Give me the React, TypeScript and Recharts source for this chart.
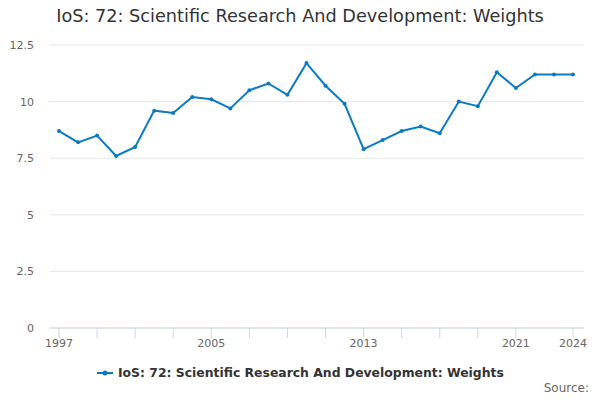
import React from "react";
import { CartesianGrid, Line, LineChart, XAxis, YAxis } from "recharts";

const TITLE = "IoS: 72: Scientific Research And Development: Weights";

const years = [
  1997, 1998, 1999, 2000, 2001, 2002, 2003, 2004, 2005, 2006, 2007, 2008, 2009, 2010,
  2011, 2012, 2013, 2014, 2015, 2016, 2017, 2018, 2019, 2020, 2021, 2022, 2023, 2024,
];
const weights = [
  8.7, 8.2, 8.5, 7.6, 8.0, 9.6, 9.5, 10.2, 10.1, 9.7, 10.5, 10.8, 10.3, 11.7,
  10.7, 9.9, 7.9, 8.3, 8.7, 8.9, 8.6, 10.0, 9.8, 11.3, 10.6, 11.2, 11.2, 11.2,
];
const xTicks = [1997, 1999, 2001, 2003, 2005, 2007, 2009, 2011, 2013, 2015, 2017, 2019, 2021, 2024];
const xLabels = [1997, 2005, 2013, 2021, 2024];
const yTicks = [0, 2.5, 5, 7.5, 10, 12.5];

const rows = years.map((year, i) => ({ year, value: weights[i] }));

const FONT = "'DejaVu Sans', sans-serif";
const LINE = "#0b7bc1";

function XTick(props: any) {
  const { x, y, payload } = props;
  if (!xLabels.includes(payload.value)) return null;
  return (
    <text x={x} y={y} dy="0.71em" textAnchor="middle" fill="#666" fontSize={11} fontFamily={FONT}>
      {payload.value}
    </text>
  );
}

export default function App() {
  return (
    <div style={{ position: "absolute", left: 0, top: 0, width: 600, height: 400, background: "#fff", fontFamily: FONT }}>
      <div
        style={{
          position: "absolute",
          top: 6,
          left: 0,
          width: 600,
          textAlign: "center",
          fontSize: 17.7,
          color: "#333",
          whiteSpace: "nowrap",
        }}
      >
        {TITLE}
      </div>
      <LineChart width={600} height={400} data={rows} margin={{ top: 45, right: 16, bottom: 42, left: 0 }}>
        <CartesianGrid vertical={false} stroke="#e6e6e6" />
        <XAxis
          dataKey="year"
          type="number"
          domain={[1997, 2024]}
          ticks={xTicks}
          padding={{ left: 9, right: 11 }}
          height={30}
          tickSize={10}
          tickMargin={1}
          axisLine={{ stroke: "#ccd6eb" }}
          tickLine={{ stroke: "#ccd6eb" }}
          tick={<XTick />}
          interval={0}
        />
        <YAxis
          domain={[0, 12.5]}
          ticks={yTicks}
          width={50}
          tickMargin={10}
          axisLine={false}
          tickLine={false}
          tick={{ fill: "#666", fontSize: 11, fontFamily: FONT }}
        />
        <Line
          type="linear"
          dataKey="value"
          stroke={LINE}
          strokeWidth={2}
          dot={{ r: 2, fill: LINE, stroke: LINE, strokeWidth: 0 }}
          activeDot={false}
          isAnimationActive={false}
        />
      </LineChart>
      <div
        style={{
          position: "absolute",
          top: 365,
          left: 97,
          display: "flex",
          alignItems: "center",
          fontSize: 12.4,
          fontWeight: "bold",
          color: "#333",
          whiteSpace: "nowrap",
        }}
      >
        <svg width={16} height={10} style={{ marginRight: 5 }}>
          <line x1={0} y1={5} x2={16} y2={5} stroke={LINE} strokeWidth={2} />
          <circle cx={8} cy={5} r={2.5} fill={LINE} />
        </svg>
        {TITLE}
      </div>
      <div style={{ position: "absolute", top: 381, right: 11, fontSize: 12, color: "#666" }}>Source:</div>
    </div>
  );
}
